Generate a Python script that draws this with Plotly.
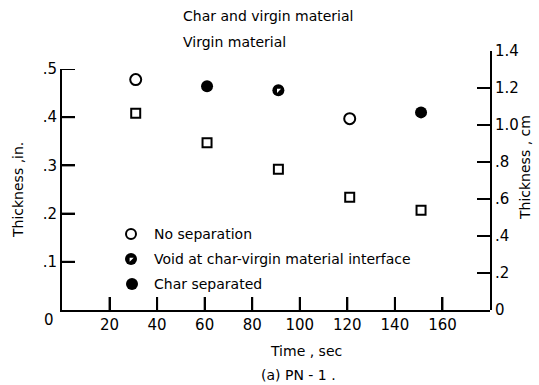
import plotly.graph_objects as go

# ---------------- data ----------------
time_s = [31, 61, 91, 121, 151]
char_virgin_in = [0.478, 0.464, 0.456, 0.397, 0.410]
virgin_in = [0.408, 0.347, 0.292, 0.234, 0.207]
status = ["none", "separated", "void", "none", "separated"]

x_ticks = [20, 40, 60, 80, 100, 120, 140, 160]
x_labels = ["20", "40", "60", "80", "100", "120", "140", "160"]
y_in_ticks = [0.1, 0.2, 0.3, 0.4, 0.5]
y_in_labels = [".1", ".2", ".3", ".4", ".5"]
y_cm_ticks = [0, 0.2, 0.4, 0.6, 0.8, 1.0, 1.2, 1.4]
y_cm_labels = ["0", ".2", ".4", ".6", ".8", "1.0", "1.2", "1.4"]

# ---------------- layout geometry (pixels) ----------------
W, H = 539, 385
L, R, T, B = 62, 49, 51, 75
PW, PH = W - L - R, H - T - B
Y0PX = H - B                   # origin row in pixels
IN_TOP_PX = 69                 # pixel row of 0.5 in
X_MAX = 180
TICK_PX = 13
IN_DOM_TOP = (Y0PX - IN_TOP_PX) / PH


def px2x(px):
    return (px - L) / PW


def py2y(py):
    return (Y0PX - py) / PH


FONT = "DejaVu Sans"
BLACK = "black"
CLEAR = "rgba(0,0,0,0)"

fig = go.Figure()

# inward tick marks of the time axis and the inch axis, built from the tick arrays
tick_x, tick_y = [], []
for v in x_ticks:
    tick_x += [v, v, None]
    tick_y += [0, TICK_PX / (Y0PX - IN_TOP_PX) * 0.5, None]
for v in y_in_ticks:
    tick_x += [0, TICK_PX / PW * X_MAX, None]
    tick_y += [v, v, None]
fig.add_trace(go.Scatter(x=tick_x, y=tick_y, mode="lines", line=dict(color=BLACK, width=2),
                         showlegend=False, hoverinfo="skip", cliponaxis=False))

fig.add_trace(go.Scatter(
    x=time_s, y=virgin_in, mode="markers",
    marker=dict(symbol="square-open", size=9, color=BLACK, line=dict(width=2, color=BLACK)),
    showlegend=False))


def subset(key):
    xs = [t for t, s in zip(time_s, status) if s == key]
    ys = [v for v, s in zip(char_virgin_in, status) if s == key]
    return xs, ys


OPEN_C = dict(symbol="circle-open", size=11, color=BLACK, line=dict(width=2, color=BLACK))
FULL_C = dict(symbol="circle", size=12, color=BLACK, line=dict(width=0))
NOTCH = dict(symbol="triangle-nw", size=4.5, color="white", line=dict(width=0))
OPEN_S = dict(symbol="square-open", size=9, color=BLACK, line=dict(width=2, color=BLACK))

xs, ys = subset("none")
fig.add_trace(go.Scatter(x=xs, y=ys, mode="markers", marker=OPEN_C, showlegend=False))
xs, ys = subset("separated")
fig.add_trace(go.Scatter(x=xs, y=ys, mode="markers", marker=FULL_C, showlegend=False))
xs, ys = subset("void")
fig.add_trace(go.Scatter(x=xs, y=ys, mode="markers", marker=FULL_C, showlegend=False))
fig.add_trace(go.Scatter(x=xs, y=ys, mode="markers", marker=NOTCH,
                         showlegend=False, hoverinfo="skip"))

# empty trace that carries the cm axis
fig.add_trace(go.Scatter(x=[None], y=[None], yaxis="y2", showlegend=False, hoverinfo="skip"))

# legend keys, drawn on a hidden overlay whose units are page pixels
key_x = [158, 158, 131, 131, 132]
key_y = [16, 42, 234, 259, 284]
key_style = [OPEN_C, OPEN_S, dict(OPEN_C, size=10), FULL_C, FULL_C]
for kx, ky, st in zip(key_x, key_y, key_style):
    fig.add_trace(go.Scatter(x=[kx], y=[ky], xaxis="x3", yaxis="y3", mode="markers",
                             marker=st, cliponaxis=False, showlegend=False, hoverinfo="skip"))
fig.add_trace(go.Scatter(x=[key_x[3]], y=[key_y[3]], xaxis="x3", yaxis="y3", mode="markers",
                         marker=NOTCH, cliponaxis=False, showlegend=False, hoverinfo="skip"))

tick_common = dict(ticks="inside", ticklen=TICK_PX, tickwidth=2, tickcolor=BLACK,
                   showgrid=False, zeroline=False,
                   tickfont=dict(size=15, family=FONT, color=BLACK))

fig.update_layout(
    width=W, height=H,
    margin=dict(l=L, r=R, t=T, b=B),
    plot_bgcolor=CLEAR,
    xaxis=dict(range=[0, X_MAX], tickvals=x_ticks, ticktext=x_labels, anchor="y",
               showline=True, linewidth=2, linecolor=BLACK, **tick_common),
    yaxis=dict(range=[0, 0.5], domain=[0, IN_DOM_TOP], anchor="x",
               tickvals=y_in_ticks, ticktext=y_in_labels,
               showline=True, linewidth=2, linecolor=BLACK, **tick_common),
    yaxis2=dict(range=[0, 1.4], domain=[0, 1], tickvals=y_cm_ticks, ticktext=y_cm_labels,
                side="right", anchor="x",
                showline=True, linewidth=2, linecolor=BLACK, **tick_common),
    xaxis3=dict(range=[L, W - R], overlaying="x", visible=False),
    yaxis3=dict(range=[Y0PX, IN_TOP_PX], overlaying="y", visible=False),
)

ann = []


def text(px, py, s, xanchor="left", angle=0, size=14):
    ann.append(dict(x=px2x(px), y=py2y(py), xref="paper", yref="paper", text=s,
                    showarrow=False, xanchor=xanchor, yanchor="middle",
                    textangle=angle, font=dict(size=size, family=FONT, color=BLACK)))


text(49, 320, "0", xanchor="center", size=15)
text(18, 190, "Thickness ,in.", xanchor="center", angle=-90)
text(525, 168, "Thickness , cm", xanchor="center", angle=-90)
text(306, 351, "Time , sec", xanchor="center")
text(298, 375, "(a) PN - 1 .", xanchor="center")
text(181, 16, "Char and virgin material")
text(181, 42, "Virgin material")
text(152, 234, "No separation")
text(152, 259, "Void at char-virgin material interface")
text(152, 284, "Char separated")
fig.update_layout(annotations=ann)

fig.write_html("out.html", config={"displayModeBar": False},
               post_script="document.body.style.margin='0';document.body.style.padding='0';")
